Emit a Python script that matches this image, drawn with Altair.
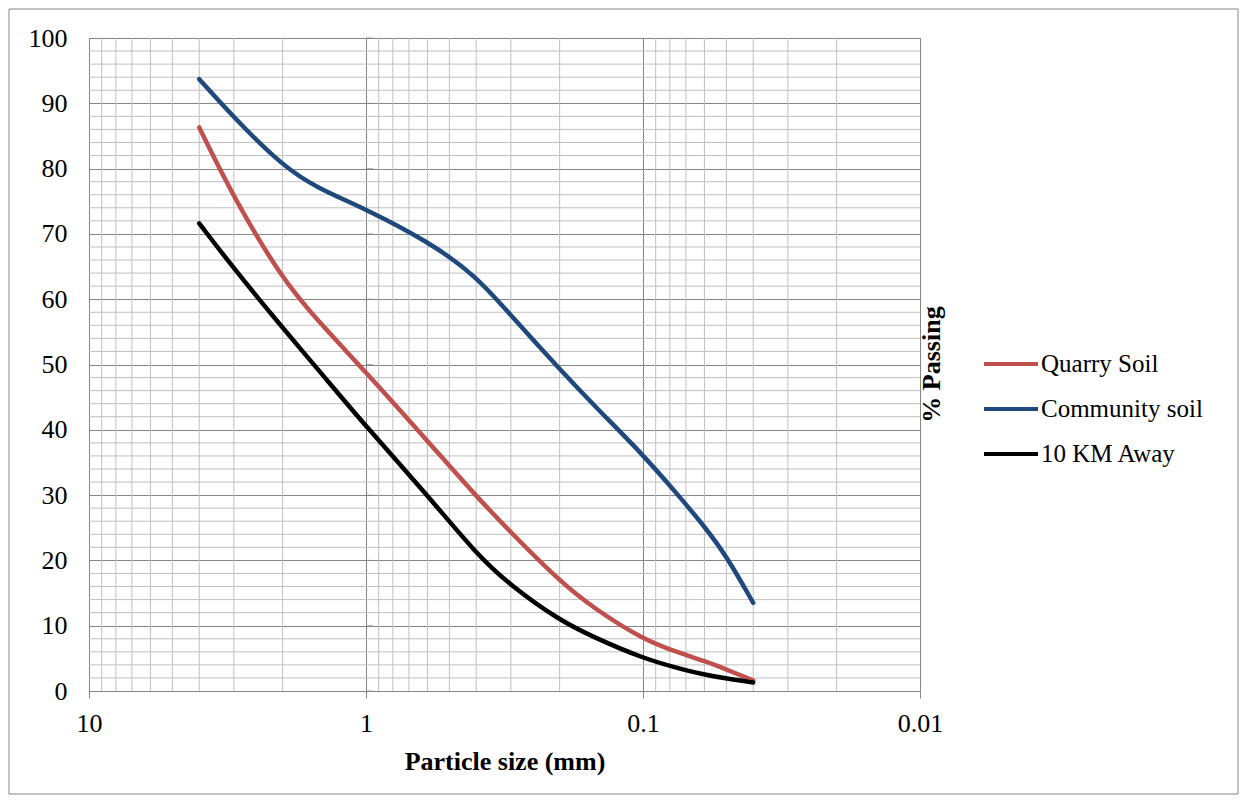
import altair as alt
import pandas as pd

# Sieve analysis: particle size (mm) vs % passing
series_names = ["Quarry Soil", "Community soil", "10 KM Away"]
series_colors = ["#C0504D", "#1F497D", "#000000"]

sieve_mm = [4.0, 3.0, 2.0, 1.5, 1.0, 0.6, 0.4, 0.3, 0.2, 0.15, 0.1, 0.075, 0.06, 0.05, 0.04]
quarry_pass = [86.3, 75.5, 63.0, 56.8, 48.8, 38.3, 29.8, 24.3, 16.8, 12.6, 7.9, 5.9, 4.6, 3.3, 1.6]
community_pass = [93.7, 87.8, 80.4, 77.0, 73.8, 68.9, 63.6, 57.5, 49.3, 43.7, 36.2, 30.1, 25.2, 20.7, 13.5]
away_pass = [71.6, 64.7, 55.6, 49.4, 40.5, 30.0, 21.0, 16.1, 10.8, 8.2, 5.0, 3.5, 2.5, 1.9, 1.3]

# Axis ticks and gridline positions
major_x = [10, 1, 0.1, 0.01]
minor_x = [m * 10.0 ** k for k in (-2, -1, 0) for m in range(2, 10)]
major_y = list(range(0, 101, 10))
minor_y = [v for v in range(2, 100, 2) if v % 10]
cross_x = [1]  # the vertical axis crosses the horizontal one at 1 mm

rows = []
for name, vals in zip(series_names, [quarry_pass, community_pass, away_pass]):
    for s, v in zip(sieve_mm, vals):
        rows.append({"series": name, "size": s, "passing": v})
df = pd.DataFrame(rows)

W, H = 831, 653
PAD_L, PAD_T = 89, 38
FONT = "Liberation Serif"
MAJOR = "#868686"
MINOR = "#c0c0c0"

x_scale = alt.Scale(type="log", domain=[0.01, 10], reverse=True, nice=False)
y_scale = alt.Scale(domain=[0, 100], nice=False)

x_axis = alt.Axis(
    values=major_x, format="~g", grid=True, gridColor=MAJOR,
    domainColor=MAJOR, tickColor=MAJOR, tickSize=7,
    labelFont=FONT, labelFontSize=26, labelColor="black",
    labelPadding=12, labelFlush=False,
    title="Particle size (mm)", titleFont=FONT, titleFontSize=26,
    titleFontWeight="bold", titleColor="black",
    titleBaseline="alphabetic", titleY=78,
)
y_axis = alt.Axis(
    values=major_y, grid=True, gridColor=MAJOR, ticks=False,
    domainColor=MAJOR, labelFont=FONT, labelFontSize=26,
    labelColor="black", labelPadding=22,
    title="% Passing", titleFont=FONT, titleFontSize=26,
    titleFontWeight="bold", titleColor="black",
    titleAngle=270, titleX=850, titleY=326,
    titleBaseline="alphabetic", titleAlign="center",
)

lines = alt.Chart(df).mark_line(
    strokeWidth=4.5, interpolate="basis", strokeCap="round"
).encode(
    x=alt.X("size:Q", scale=x_scale, axis=x_axis),
    y=alt.Y("passing:Q", scale=y_scale, axis=y_axis),
    color=alt.Color(
        "series:N",
        scale=alt.Scale(domain=series_names, range=series_colors),
        legend=alt.Legend(
            title=None, orient="none", legendX=893, legendY=297,
            symbolType="stroke", symbolSize=2916, symbolStrokeWidth=4,
            labelFont=FONT, labelFontSize=25, labelColor="black",
            labelOffset=1, rowPadding=3, padding=0, labelLimit=300,
        ),
    ),
    order=alt.Order("size:Q", sort="descending"),
)

minor_v = alt.Chart(pd.DataFrame({"size": minor_x})).mark_rule(
    color=MINOR, strokeWidth=1
).encode(x=alt.X("size:Q", scale=x_scale, axis=x_axis))

minor_h = alt.Chart(pd.DataFrame({"passing": minor_y})).mark_rule(
    color=MINOR, strokeWidth=1
).encode(y=alt.Y("passing:Q", scale=y_scale, axis=y_axis))

# short ticks on the vertical axis that crosses at 1 mm
cross_df = pd.DataFrame({"size": cross_x * len(major_y), "passing": major_y})
cross_ticks = alt.Chart(cross_df).mark_tick(
    color=MAJOR, thickness=1, size=7, orient="horizontal", xOffset=3.5
).encode(
    x=alt.X("size:Q", scale=x_scale, axis=x_axis),
    y=alt.Y("passing:Q", scale=y_scale, axis=y_axis),
)

frame = alt.Chart(pd.DataFrame({"k": [0]})).mark_rect(
    fillOpacity=0, stroke=MAJOR, strokeWidth=1
).encode(
    x=alt.value(-80), x2=alt.value(1238 - PAD_L),
    y=alt.value(-29), y2=alt.value(794 - PAD_T),
)

chart = alt.layer(minor_v, minor_h, cross_ticks, lines, frame).properties(
    width=W, height=H,
    autosize=alt.AutoSizeParams(type="none"),
    padding={"left": PAD_L, "top": PAD_T, "right": 1246 - PAD_L - W, "bottom": 802 - PAD_T - H},
    background="white",
).configure_view(stroke=MAJOR, strokeWidth=1)

chart.save("out.html", embed_options={"renderer": "svg", "actions": False})
